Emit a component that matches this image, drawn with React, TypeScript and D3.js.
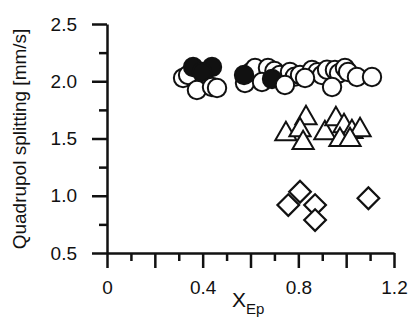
import React, { useRef, useEffect } from 'react';
import * as d3 from 'd3';

// open circles drawn behind the filled ones
const openBack: [number, number][] = [
  [0.318, 2.028], [0.339, 2.055], [0.577, 1.985], [0.605, 2.085], [0.619, 2.116],
  [0.673, 2.116], [0.648, 1.993], [0.700, 2.090], [0.723, 2.055], [0.765, 2.081],
  [0.785, 2.040], [0.807, 2.055], [0.857, 2.098], [0.880, 2.080], [0.899, 2.055],
  [0.920, 2.100], [0.953, 2.098], [0.970, 2.070], [0.995, 2.116], [1.008, 2.081],
];
const filledCircles: [number, number][] = [
  [0.360, 2.124], [0.439, 2.124], [0.397, 2.081], [0.573, 2.055], [0.690, 2.020],
];
// open circles drawn on top
const openFront: [number, number][] = [
  [0.376, 1.924], [0.439, 1.950], [0.460, 1.941], [0.744, 1.967], [0.828, 2.028],
  [0.941, 1.950], [1.045, 2.037], [1.108, 2.037],
];
const triangles: [number, number][] = [
  [0.748, 1.539], [0.832, 1.679], [0.807, 1.574], [0.820, 1.461], [0.911, 1.548],
  [0.957, 1.670], [0.991, 1.609], [1.024, 1.557], [1.058, 1.574], [0.974, 1.487],
  [1.016, 1.487],
];
const diamonds: [number, number][] = [
  [0.807, 1.035], [0.758, 0.919], [0.870, 0.919], [0.870, 0.788], [1.093, 0.978],
];

const xMajor = [0, 0.2, 0.4, 0.6, 0.8, 1.0, 1.2];
const xMinor = [0.1, 0.3, 0.5, 0.7, 0.9, 1.1];
const xLabels: Record<string, string> = { '0': '0', '0.4': '0.4', '0.8': '0.8', '1.2': '1.2' };
const yMajor = [0.5, 1.0, 1.5, 2.0, 2.5];
const yMinor = [0.75, 1.25, 1.75, 2.25];

const FONT = 'Liberation Sans, Arial, Helvetica, sans-serif';

const App = () => {
  const svgRef = useRef<SVGSVGElement>(null);

  useEffect(() => {
    const width = 410;
    const height = 320;
    const svg = d3.select(svgRef.current).attr('width', width).attr('height', height);
    svg.selectAll('*').remove();

    const x = d3.scaleLinear().domain([0, 1.2]).range([107, 394]);
    const y = d3.scaleLinear().domain([0.5, 2.5]).range([253, 24]);

    // x axis
    const gx = svg.append('g').attr('transform', 'translate(0,253)');
    gx.call(
      d3.axisBottom(x).tickValues(xMajor).tickSize(15).tickSizeOuter(0).tickPadding(13)
        .tickFormat((d) => xLabels[String(+d)] ?? '')
    );
    gx.append('g').call(d3.axisBottom(x).tickValues(xMinor).tickSize(8).tickFormat(() => ''))
      .select('.domain').remove();

    // y axis
    const gy = svg.append('g').attr('transform', 'translate(107,0)');
    gy.call(
      d3.axisLeft(y).tickValues(yMajor).tickSize(15).tickSizeOuter(0).tickPadding(15)
        .tickFormat(d3.format('.1f'))
    );
    gy.append('g').call(d3.axisLeft(y).tickValues(yMinor).tickSize(8).tickFormat(() => ''))
      .select('.domain').remove();

    svg.selectAll('.domain, .tick line').attr('stroke', '#111').attr('stroke-width', 2.5);
    svg.selectAll('.tick text').attr('font-family', FONT).attr('font-size', 19).attr('fill', '#111');

    // markers
    const drawCircles = (pts: [number, number][], fill: string) => {
      svg.append('g').selectAll('circle').data(pts).join('circle')
        .attr('cx', (d) => x(d[0])).attr('cy', (d) => y(d[1])).attr('r', 9.2)
        .attr('fill', fill).attr('stroke', '#111').attr('stroke-width', 2);
    };
    drawCircles(openBack, '#fff');
    drawCircles(filledCircles, '#111');
    drawCircles(openFront, '#fff');

    const tri = d3.symbol().type(d3.symbolTriangle).size(195);
    svg.append('g').selectAll('path').data(triangles).join('path')
      .attr('d', tri)
      .attr('transform', (d) => `translate(${x(d[0])},${y(d[1])})`)
      .attr('fill', '#fff').attr('stroke', '#111').attr('stroke-width', 2)
      .attr('stroke-linejoin', 'miter');

    const sq = d3.symbol().type(d3.symbolSquare).size(235);
    svg.append('g').selectAll('path').data(diamonds).join('path')
      .attr('d', sq)
      .attr('transform', (d) => `translate(${x(d[0])},${y(d[1])}) rotate(45)`)
      .attr('fill', '#fff').attr('stroke', '#111').attr('stroke-width', 2.2);

    // axis titles
    svg.append('text')
      .attr('transform', 'translate(26,139) rotate(-90)')
      .attr('text-anchor', 'middle')
      .attr('font-family', FONT).attr('font-size', 19).attr('fill', '#111')
      .text('Quadrupol splitting [mm/s]');

    const xt = svg.append('text')
      .attr('x', 232).attr('y', 307)
      .attr('font-family', FONT).attr('font-size', 21).attr('fill', '#111');
    xt.append('tspan').text('X');
    xt.append('tspan').attr('font-size', 15).attr('dy', 7).text('Ep');
  }, []);

  return (
    <svg ref={svgRef} style={{ position: 'absolute', left: 0, top: 0, background: '#fff' }}></svg>
  );
};

export default App;
